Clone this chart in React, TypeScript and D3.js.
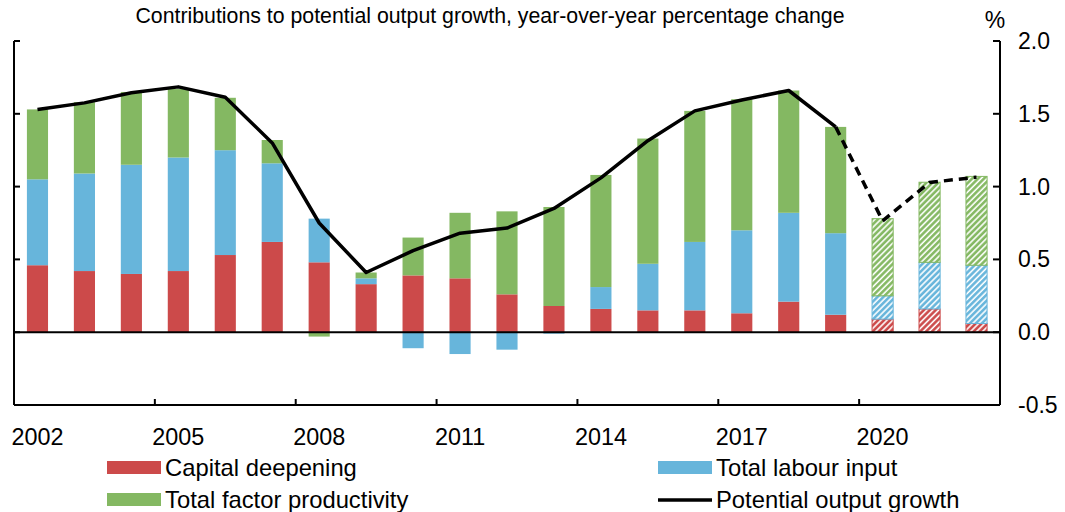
import React from "react";
import * as d3 from "d3";

const years = ["2002","2003","2004","2005","2006","2007","2008","2009","2010","2011","2012","2013","2014","2015","2016","2017","2018","2019","2020","2021","2022"];
const tickYears = ["2002","2005","2008","2011","2014","2017","2020"];
const capital = [0.46,0.42,0.40,0.42,0.53,0.62,0.48,0.33,0.39,0.37,0.26,0.18,0.16,0.15,0.15,0.13,0.21,0.12,0.09,0.16,0.06];
const labour = [0.59,0.67,0.75,0.78,0.72,0.54,0.30,0.04,-0.11,-0.15,-0.12,-0.01,0.15,0.32,0.47,0.57,0.61,0.56,0.16,0.32,0.40];
const tfp = [0.48,0.49,0.50,0.47,0.36,0.16,-0.03,0.04,0.26,0.45,0.57,0.68,0.77,0.86,0.90,0.90,0.84,0.73,0.53,0.55,0.61];
const potential = [1.53,1.575,1.645,1.685,1.614,1.30,0.75,0.41,0.56,0.68,0.715,0.85,1.06,1.315,1.52,1.595,1.66,1.41,0.765,1.028,1.065];
const projectedFrom = "2020";
const yTicks = [2.0,1.5,1.0,0.5,0.0,-0.5];
const seriesNames = ["Capital deepening","Total labour input","Total factor productivity"];
const colors = ["#CC4A4A","#67B5DB","#84B862"];

const W = 1065, H = 512;
const left = 14, right = 1000, top = 41, bottom = 405;
const FONT = "'Liberation Sans', Arial, sans-serif";

export default function App() {
  const x = d3.scaleBand<string>().domain(years).range([left, right]).paddingInner(0.55).paddingOuter(0.275);
  const y = d3.scaleLinear().domain([-0.5, 2.0]).range([bottom, top]);
  const rows = years.map((yr, i) => ({ year: yr, c: capital[i], l: labour[i], t: tfp[i] }));
  const stack = d3.stack<any>().keys(["c","l","t"]).offset(d3.stackOffsetDiverging);
  const layers = stack(rows);
  const projIdx = years.indexOf(projectedFrom);
  const cx = (yr: string) => (x(yr) as number) + x.bandwidth() / 2;
  const line = d3.line<number>().x((_, i) => cx(years[i])).y(d => y(d));
  const solidPts = potential.slice(0, projIdx);
  const dashPts = potential.slice(projIdx - 1);
  const dashLine = d3.line<number>().x((_, i) => cx(years[projIdx - 1 + i])).y(d => y(d));
  const bandStep = x.step();
  const xTickPos = tickYears.slice(1).map(t => (x(t) as number) - (bandStep - x.bandwidth()) / 2);

  return (
    <svg width={W} height={H} style={{ position: "absolute", left: 0, top: 0, fontFamily: FONT }}>
      <defs>
        {colors.map((c, k) => (
          <pattern key={k} id={`hatch${k}`} width={4.2} height={4.2} patternUnits="userSpaceOnUse" patternTransform="rotate(45)">
            <rect width={4.2} height={4.2} fill={c} />
            <line x1={1} y1={0} x2={1} y2={4.2} stroke="#fff" strokeWidth={1.6} />
          </pattern>
        ))}
      </defs>
      <rect width={W} height={H} fill="#fff" />
      <text x={490} y={23} textAnchor="middle" fontSize={21.3} fill="#000">Contributions to potential output growth, year-over-year percentage change</text>
      {layers.map((layer, k) => (
        <g key={k}>
          {layer.map((d, i) => {
            const proj = i >= projIdx;
            const y0 = y(d[0]), y1 = y(d[1]);
            const h = Math.abs(y0 - y1);
            if (h < 0.01) return null;
            return (
              <rect key={i} x={x(years[i]) as number} width={x.bandwidth()} y={Math.min(y0, y1)} height={h}
                fill={proj ? `url(#hatch${k})` : colors[k]}
                stroke={proj ? colors[k] : "none"} strokeWidth={proj ? 1 : 0} />
            );
          })}
        </g>
      ))}
      {/* axes */}
      <line x1={left} x2={right} y1={y(0)} y2={y(0)} stroke="#000" strokeWidth={2} />
      <line x1={left} x2={right} y1={bottom} y2={bottom} stroke="#000" strokeWidth={2} />
      <line x1={left} x2={left} y1={top} y2={bottom} stroke="#000" strokeWidth={2} />
      <line x1={right} x2={right} y1={top} y2={bottom} stroke="#000" strokeWidth={2} />
      {yTicks.map(t => (
        <g key={t}>
          <line x1={left} x2={left + 6} y1={y(t)} y2={y(t)} stroke="#000" strokeWidth={2} />
          <line x1={right - 7} x2={right} y1={y(t)} y2={y(t)} stroke="#000" strokeWidth={2} />
          <text x={1018} y={y(t)} dy="0.35em" fontSize={23} fill="#000">{t.toFixed(1)}</text>
        </g>
      ))}
      {xTickPos.map((p, i) => (
        <line key={i} x1={p} x2={p} y1={bottom} y2={bottom - 6} stroke="#000" strokeWidth={2} />
      ))}
      {tickYears.map(t => (
        <text key={t} x={cx(t)} y={445} textAnchor="middle" fontSize={23.4} fill="#000">{t}</text>
      ))}
      <text x={995} y={28} textAnchor="middle" fontSize={23} fill="#000">%</text>
      {/* line */}
      <path d={line(solidPts) || ""} fill="none" stroke="#000" strokeWidth={3.5} strokeLinejoin="round" />
      <path d={dashLine(dashPts) || ""} fill="none" stroke="#000" strokeWidth={3.5} strokeDasharray="9,6" />
      {/* legend */}
      <g fontSize={23.8} fill="#000">
        <rect x={107} y={461} width={54} height={13} fill={colors[0]} />
        <text x={165} y={476}>{seriesNames[0]}</text>
        <rect x={658} y={461} width={54} height={13} fill={colors[1]} />
        <text x={716} y={476}>{seriesNames[1]}</text>
        <rect x={107} y={493} width={54} height={13} fill={colors[2]} />
        <text x={165} y={508}>{seriesNames[2]}</text>
        <line x1={658} x2={712} y1={500} y2={500} stroke="#000" strokeWidth={3.5} />
        <text x={716} y={508}>Potential output growth</text>
      </g>
    </svg>
  );
}
